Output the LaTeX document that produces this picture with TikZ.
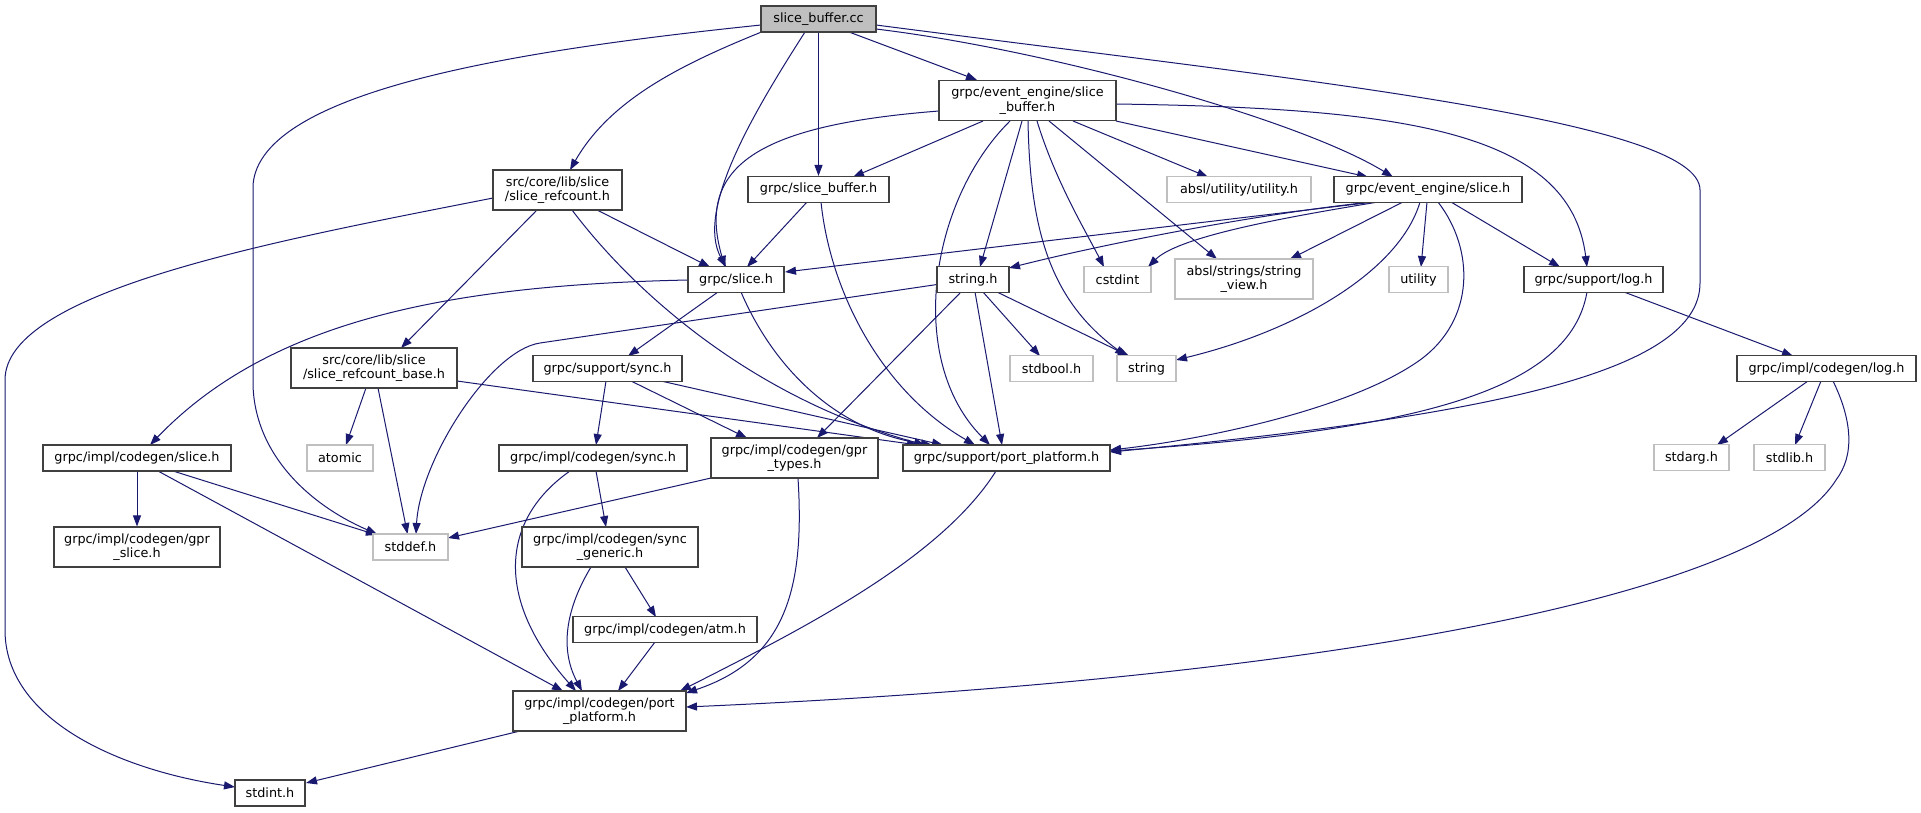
\documentclass[tikz,border=0pt]{standalone}
\usepackage{fontspec}
\newfontfamily\dvs{DejaVu Sans}
\usetikzlibrary{arrows.meta,calc,backgrounds}
\definecolor{edgec}{HTML}{191970}
\definecolor{bordc}{HTML}{404040}
\definecolor{sysc}{HTML}{BFBFBF}
\definecolor{rootc}{HTML}{BFBFBF}
\tikzset{
  nd/.style={draw=bordc, line width=1.1pt, fill=white, inner sep=0pt,
    minimum height=26pt, align=center, font=\dvs\fontsize{12.8pt}{14.3pt}\selectfont},
  sys/.style={nd, draw=sysc},
  rootnd/.style={nd, fill=rootc},
  tall/.style={minimum height=40pt},
  e/.style={draw=edgec, line width=1pt, -{Triangle[length=11pt,width=8pt]}}
}
\begin{document}
\begin{tikzpicture}[x=1pt,y=-1pt]
\useasboundingbox (0,0) rectangle (1921,812);
% nodes
\node[rootnd, minimum width=115pt] (A) at (818.5,19) {slice\_buffer.cc};
\node[nd, tall, minimum width=177pt] (B) at (1027.5,100.5) {grpc/event\_engine/slice\\\_buffer.h};
\node[nd, tall, minimum width=129pt] (C) at (557.5,190) {src/core/lib/slice\\/slice\_refcount.h};
\node[nd, minimum width=141pt] (D) at (818.5,189.5) {grpc/slice\_buffer.h};
\node[sys, minimum width=144pt] (E) at (1239,189.5) {absl/utility/utility.h};
\node[nd, minimum width=188pt] (F) at (1428,189.5) {grpc/event\_engine/slice.h};
\node[nd, minimum width=96pt] (G) at (736,279.5) {grpc/slice.h};
\node[nd, minimum width=72pt] (H) at (973,279.5) {string.h};
\node[sys, minimum width=67pt] (I) at (1117.5,279.5) {cstdint};
\node[sys, tall, minimum width=138pt] (J) at (1244,279) {absl/strings/string\\\_view.h};
\node[sys, minimum width=59pt] (K) at (1418.5,279.5) {utility};
\node[nd, minimum width=139pt] (L) at (1593.5,279.5) {grpc/support/log.h};
\node[nd, tall, minimum width=166pt] (M) at (374,368) {src/core/lib/slice\\/slice\_refcount\_base.h};
\node[nd, minimum width=149pt] (N) at (607.5,368.5) {grpc/support/sync.h};
\node[sys, minimum width=83pt] (O) at (1051.5,368.5) {stdbool.h};
\node[sys, minimum width=59pt] (P) at (1146.5,368.5) {string};
\node[nd, minimum width=179pt] (Q) at (1826.5,368.5) {grpc/impl/codegen/log.h};
\node[nd, minimum width=188pt] (R) at (137,458) {grpc/impl/codegen/slice.h};
\node[sys, minimum width=66pt] (S) at (340,458) {atomic};
\node[nd, minimum width=188pt] (T) at (593,458) {grpc/impl/codegen/sync.h};
\node[nd, tall, minimum width=167pt] (U) at (794.5,458) {grpc/impl/codegen/gpr\\\_types.h};
\node[nd, minimum width=207pt] (V) at (1006.5,458) {grpc/support/port\_platform.h};
\node[sys, minimum width=75pt] (W) at (1691.5,457.5) {stdarg.h};
\node[sys, minimum width=71pt] (X) at (1789.5,457.5) {stdlib.h};
\node[nd, tall, minimum width=166pt] (Y) at (137,547) {grpc/impl/codegen/gpr\\\_slice.h};
\node[sys, minimum width=75pt] (Z) at (410.5,547) {stddef.h};
\node[nd, tall, minimum width=176pt] (AA) at (610,547) {grpc/impl/codegen/sync\\\_generic.h};
\node[nd, minimum width=184pt] (AB) at (665,629.5) {grpc/impl/codegen/atm.h};
\node[nd, tall, minimum width=173pt] (AC) at (599.5,711) {grpc/impl/codegen/port\\\_platform.h};
\node[nd, minimum width=70pt] (AD) at (270,793) {stdint.h};
% edges
\begin{pgfonlayer}{background}
\fill[white] (0,0) rectangle (1921,812);
% from A
\draw[e] ($(A)+(-57.5,6)$) .. controls (520,50) and (260,90) .. (253,185) -- (253,385) .. controls (255,455) and (310,505) .. ($(Z)+(-33.5,-13)$);
\draw[e] ($(A)+(-57,13)$) .. controls (680,65) and (610,100) .. ($(C)+(12.5,-20)$);
\draw[e] ($(A)+(-13.5,13)$) .. controls (755,110) and (695,210) .. ($(G)+(-10,-12.5)$);
\draw[e] (A) -- (D);
\draw[e] ($(A)+(30.5,13)$) -- ($(B)+(-50.5,-20.5)$);
\draw[e] ($(A)+(57.5,10)$) .. controls (1050,50) and (1300,120) .. ($(F)+(-35,-12.5)$);
\draw[e] ($(A)+(57.5,6)$) .. controls (1300,80) and (1700,120) .. (1700,190) -- (1700,283) .. controls (1700,370) and (1500,415) .. ($(V)+(103.5,-6)$);
% from B
\draw[e] ($(B)+(-88.5,10.5)$) .. controls (760,125) and (695,165) .. ($(G)+(-11,-12.5)$);
\draw[e] ($(B)+(-44.5,20.5)$) -- ($(D)+(34.5,-12.5)$);
\draw[e] ($(B)+(-17.5,20.5)$) .. controls (930,200) and (905,360) .. ($(V)+(-16.5,-13)$);
\draw[e] ($(B)+(-5.5,20.5)$) -- ($(H)+(7,-12.5)$);
\draw[e] ($(B)+(0.5,20.5)$) .. controls (1030,230) and (1050,300) .. ($(P)+(-20.5,-12.5)$);
\draw[e] ($(B)+(9.5,20.5)$) .. controls (1055,180) and (1085,230) .. ($(I)+(-13.5,-12.5)$);
\draw[e] ($(B)+(21.5,20.5)$) -- ($(J)+(-27,-20)$);
\draw[e] ($(B)+(45.5,20.5)$) -- ($(E)+(-31,-12.5)$);
\draw[e] ($(B)+(88.5,20.5)$) -- ($(F)+(-60,-12.5)$);
\draw[e] ($(B)+(88.5,3.5)$) .. controls (1400,108) and (1570,130) .. ($(L)+(-6.5,-12.5)$);
% from C
\draw[e] ($(C)+(-64.5,8)$) .. controls (280,240) and (5,290) .. (5,380) -- (5,630) .. controls (5,720) and (120,770) .. ($(AD)+(-35,-6)$);
\draw[e] ($(C)+(39.5,20)$) -- ($(G)+(-26,-12.5)$);
\draw[e] ($(C)+(-20.5,20)$) -- ($(M)+(27,-20)$);
\draw[e] ($(C)+(14.5,20)$) .. controls (640,300) and (760,400) .. ($(V)+(-81.5,-13)$);
% from D
\draw[e] ($(D)+(-11.5,12.5)$) -- ($(G)+(11,-12.5)$);
\draw[e] ($(D)+(2.5,12.5)$) .. controls (830,290) and (880,390) .. ($(V)+(-31.5,-13)$);
% from F
\draw[e] ($(F)+(-54,12.5)$) -- ($(G)+(49,-7.5)$);
\draw[e] ($(F)+(-57,12.5)$) .. controls (1250,215) and (1100,245) .. ($(H)+(36,-11.5)$);
\draw[e] ($(F)+(-50,12.5)$) .. controls (1300,215) and (1180,235) .. ($(I)+(30.5,-12.5)$);
\draw[e] ($(F)+(-25,12.5)$) -- ($(J)+(46,-20)$);
\draw[e] ($(F)+(-1,12.5)$) -- ($(K)+(2.5,-12.5)$);
\draw[e] ($(F)+(-8,12.5)$) .. controls (1400,270) and (1300,330) .. ($(P)+(29.5,-8.5)$);
\draw[e] ($(F)+(10,12.5)$) .. controls (1475,250) and (1475,320) .. (1420,360) .. controls (1350,410) and (1200,440) .. ($(V)+(103.5,-8)$);
\draw[e] ($(F)+(23,12.5)$) -- ($(L)+(-33.5,-12.5)$);
% from G
\draw[e] ($(G)+(-48,0.5)$) .. controls (450,285) and (270,320) .. ($(R)+(13,-13)$);
\draw[e] ($(G)+(-18,12.5)$) -- ($(N)+(20.5,-12.5)$);
\draw[e] ($(G)+(5,12.5)$) .. controls (770,360) and (830,430) .. ($(V)+(-74.5,-13)$);
% from H
\draw[e] ($(H)+(-36,5)$) -- (540,343) .. controls (490,350.4) and (420,460) .. ($(Z)+(5.5,-13)$);
\draw[e] ($(H)+(-12,12.5)$) -- ($(U)+(22.5,-20)$);
\draw[e] ($(H)+(2,12.5)$) -- ($(V)+(-4.5,-13)$);
\draw[e] ($(H)+(10,12.5)$) -- ($(O)+(-11.5,-12.5)$);
\draw[e] ($(H)+(24,12.5)$) -- ($(P)+(-17.5,-12.5)$);
% from L
\draw[e] ($(L)+(30.5,12.5)$) -- ($(Q)+(-33.5,-12.5)$);
\draw[e] ($(L)+(-6.5,12.5)$) .. controls (1570,390) and (1420,430) .. ($(V)+(103.5,-7)$);
% from M
\draw[e] ($(M)+(-8,20)$) -- ($(S)+(6,-13)$);
\draw[e] ($(M)+(4,20)$) -- ($(Z)+(-3,-13)$);
\draw[e] ($(M)+(83,13)$) -- ($(V)+(-88.5,-13)$);
% from N
\draw[e] ($(N)+(-1.5,12.5)$) -- ($(T)+(3,-13)$);
\draw[e] ($(N)+(23.5,12.5)$) -- ($(U)+(-47.5,-20)$);
\draw[e] ($(N)+(53.5,12.5)$) -- ($(V)+(-63.5,-13)$);
% from Q
\draw[e] ($(Q)+(-18.5,12.5)$) -- ($(W)+(25.5,-12.5)$);
\draw[e] ($(Q)+(-5.5,12.5)$) -- ($(X)+(5.5,-12.5)$);
\draw[e] ($(Q)+(6.5,12.5)$) .. controls (1852,420) and (1855,455) .. (1836,480) .. controls (1760,600) and (1300,680) .. ($(AC)+(86.5,-4)$);
% from R
\draw[e] (R) -- (Y);
\draw[e] ($(R)+(36,13)$) -- ($(Z)+(-33.5,-12)$);
\draw[e] ($(R)+(21,13)$) -- ($(AC)+(-36.5,-20)$);
% from T
\draw[e] ($(T)+(3,13)$) -- ($(AA)+(-4,-20)$);
\draw[e] ($(T)+(-23,13)$) .. controls (500,520) and (495,600) .. ($(AC)+(-23.5,-20)$);
% from U
\draw[e] ($(U)+(-83.5,20)$) -- ($(Z)+(37.5,-9)$);
\draw[e] ($(U)+(3.5,20)$) .. controls (805,590) and (785,660) .. ($(AC)+(86.5,-18)$);
% from V
\draw[e] ($(V)+(-10.5,13)$) .. controls (940,560) and (800,630) .. ($(AC)+(80.5,-20)$);
% from AA
\draw[e] ($(AA)+(15,20)$) -- ($(AB)+(-9,-12.5)$);
\draw[e] ($(AA)+(-19,20)$) .. controls (565,610) and (560,650) .. ($(AC)+(-17.5,-20)$);
% from AB
\draw[e] ($(AB)+(-10,12.5)$) -- ($(AC)+(18.5,-20)$);
% from AC
\draw[e] ($(AC)+(-79.5,20)$) -- ($(AD)+(36,-10)$);
\end{pgfonlayer}
\end{tikzpicture}
\end{document}
